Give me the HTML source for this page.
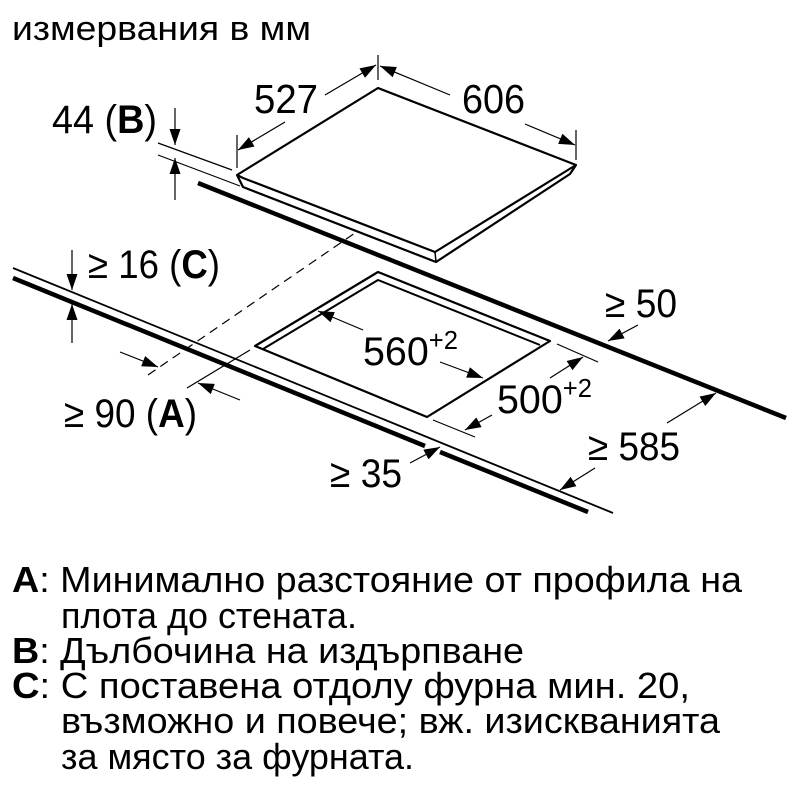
<!DOCTYPE html>
<html><head><meta charset="utf-8"><style>
html,body{margin:0;padding:0;background:#fff;}
svg{display:block;font-family:"Liberation Sans","DejaVu Sans",sans-serif;}
</style></head><body>
<svg width="800" height="800" viewBox="0 0 800 800" xmlns="http://www.w3.org/2000/svg">
<defs>
<marker id="a" markerWidth="16" markerHeight="11" refX="16" refY="5.5" orient="auto" markerUnits="userSpaceOnUse"><path d="M0,0 L16,5.5 L0,11z" fill="#000"/></marker>
</defs>
<g fill="none" stroke="#000" stroke-linejoin="round">
<path d="M237,175 L378,88 L576,165 L570,174 L436,262 L243,187 L237,175z M237,175 L243,178 L435,252 L576,165" stroke-width="2.2"/>
<path d="M435,252 L436,262" stroke-width="1.5"/>
<line x1="198" y1="183" x2="786" y2="418" stroke-width="4.5"/>
<line x1="13" y1="268" x2="613" y2="513" stroke-width="1.8"/>
<line x1="13" y1="278" x2="425" y2="446" stroke-width="4.5"/>
<line x1="440" y1="452" x2="588" y2="512" stroke-width="4.5"/>
<path d="M255,346 L378,272 L550,341 L427,417 L255,346z" stroke-width="2.2"/>
<path d="M263,349 L378,280 L540,345" stroke-width="2"/>
<line x1="148" y1="375" x2="355" y2="233" stroke-width="1.2" stroke-dasharray="9,6"/>
<line x1="187" y1="388" x2="250" y2="350" stroke-width="1.2"/>
<line x1="158" y1="143" x2="232" y2="170" stroke-width="1.2"/>
<line x1="158" y1="155" x2="240" y2="186" stroke-width="1.2"/>
<line x1="175" y1="108" x2="175" y2="145" stroke-width="1.2" marker-end="url(#a)"/>
<line x1="175" y1="200" x2="175" y2="158" stroke-width="1.2" marker-end="url(#a)"/>
<line x1="72" y1="250" x2="72" y2="290" stroke-width="1.2" marker-end="url(#a)"/>
<line x1="72" y1="343" x2="72" y2="304" stroke-width="1.2" marker-end="url(#a)"/>
<line x1="120" y1="352" x2="158" y2="367" stroke-width="1.2" marker-end="url(#a)"/>
<line x1="240" y1="400" x2="198" y2="383" stroke-width="1.2" marker-end="url(#a)"/>
<line x1="237" y1="135" x2="237" y2="168" stroke-width="1.2"/>
<line x1="378" y1="55" x2="378" y2="80" stroke-width="1.2"/>
<line x1="576" y1="130" x2="576" y2="160" stroke-width="1.2"/>
<line x1="285" y1="122" x2="238" y2="150" stroke-width="1.2" marker-end="url(#a)"/>
<line x1="325" y1="95" x2="376" y2="65" stroke-width="1.2" marker-end="url(#a)"/>
<line x1="450" y1="95" x2="380" y2="66" stroke-width="1.2" marker-end="url(#a)"/>
<line x1="525" y1="124" x2="575" y2="145" stroke-width="1.2" marker-end="url(#a)"/>
<line x1="363" y1="330" x2="318" y2="311" stroke-width="1.2" marker-end="url(#a)"/>
<line x1="440" y1="362" x2="483" y2="378" stroke-width="1.2" marker-end="url(#a)"/>
<line x1="557" y1="344" x2="598" y2="362" stroke-width="1.2"/>
<line x1="433" y1="420" x2="475" y2="437" stroke-width="1.2"/>
<line x1="550" y1="378" x2="583" y2="357" stroke-width="1.2" marker-end="url(#a)"/>
<line x1="492" y1="415" x2="465" y2="430" stroke-width="1.2" marker-end="url(#a)"/>
<line x1="638" y1="325" x2="608" y2="341" stroke-width="1.2" marker-end="url(#a)"/>
<line x1="667" y1="423" x2="716" y2="393" stroke-width="1.2" marker-end="url(#a)"/>
<line x1="595" y1="468" x2="560" y2="490" stroke-width="1.2" marker-end="url(#a)"/>
<line x1="410" y1="463" x2="440" y2="447" stroke-width="1.2" marker-end="url(#a)"/>
</g>
<g fill="#000">
<text x="12" y="40" style="font-size:34px" textLength="299" lengthAdjust="spacingAndGlyphs">измервания в мм</text>
<text x="254" y="113" style="font-size:41px" textLength="64" lengthAdjust="spacingAndGlyphs">527</text>
<text x="462" y="113" style="font-size:41px" textLength="63" lengthAdjust="spacingAndGlyphs">606</text>
<text x="52" y="133" style="font-size:40px" textLength="105" lengthAdjust="spacingAndGlyphs">44 (<tspan font-weight="bold">B</tspan>)</text>
<text x="88" y="278" style="font-size:40px" textLength="132" lengthAdjust="spacingAndGlyphs">≥ 16 (<tspan font-weight="bold">C</tspan>)</text>
<text x="64" y="427" style="font-size:40px" textLength="133" lengthAdjust="spacingAndGlyphs">≥ 90 (<tspan font-weight="bold">A</tspan>)</text>
<text x="363" y="365" style="font-size:40px" textLength="95" lengthAdjust="spacingAndGlyphs">560<tspan style="font-size:26px" dy="-16">+2</tspan></text>
<text x="497" y="413" style="font-size:40px" textLength="95" lengthAdjust="spacingAndGlyphs">500<tspan style="font-size:26px" dy="-16">+2</tspan></text>
<text x="605" y="317" style="font-size:40px" textLength="72" lengthAdjust="spacingAndGlyphs">≥ 50</text>
<text x="588" y="460" style="font-size:40px" textLength="92" lengthAdjust="spacingAndGlyphs">≥ 585</text>
<text x="330" y="487" style="font-size:40px" textLength="72" lengthAdjust="spacingAndGlyphs">≥ 35</text>
</g>
<g fill="#000" style="font-size:36px">
<text x="12" y="592" textLength="730" lengthAdjust="spacingAndGlyphs"><tspan font-weight="bold">A</tspan>: Минимално разстояние от профила на</text>
<text x="61" y="628" textLength="296" lengthAdjust="spacingAndGlyphs">плота до стената.</text>
<text x="12" y="663" textLength="512" lengthAdjust="spacingAndGlyphs"><tspan font-weight="bold">B</tspan>: Дълбочина на издърпване</text>
<text x="12" y="698" textLength="678" lengthAdjust="spacingAndGlyphs"><tspan font-weight="bold">C</tspan>: С поставена отдолу фурна мин. 20,</text>
<text x="61" y="733" textLength="659" lengthAdjust="spacingAndGlyphs">възможно и повече; вж. изискванията</text>
<text x="61" y="769" textLength="353" lengthAdjust="spacingAndGlyphs">за място за фурната.</text>
</g>
</svg>
</body></html>
